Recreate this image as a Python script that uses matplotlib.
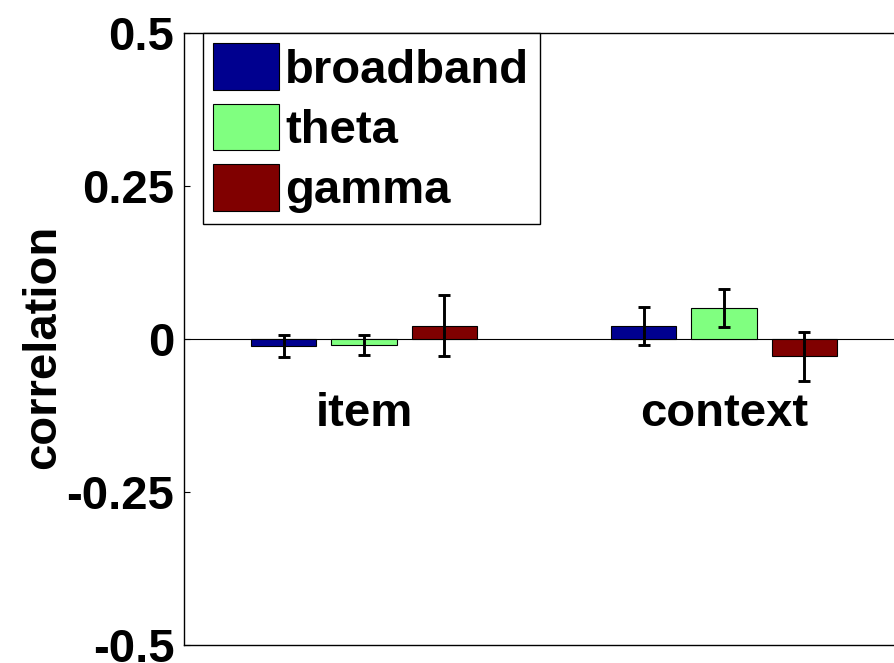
import matplotlib.pyplot as plt
import numpy as np

# data
conditions = ['item', 'context']
bands = ['broadband', 'theta', 'gamma']
broadband_r = [-0.011, 0.022]
broadband_err = [0.018, 0.031]
theta_r = [-0.010, 0.051]
theta_err = [0.016, 0.031]
gamma_r = [0.022, -0.028]
gamma_err = [0.050, 0.040]
yticks = [-0.5, -0.25, 0, 0.25, 0.5]
ytick_labels = ['-0.5', '-0.25', '0', '0.25', '0.5']

colors = [(0, 0, 0.5625), (0.5, 1, 0.5), (0.5, 0, 0)]
means = [broadband_r, theta_r, gamma_r]
errs = [broadband_err, theta_err, gamma_err]

plt.rcParams['font.family'] = 'Liberation Sans'
fs = 34
fw = 'bold'

fig = plt.figure(figsize=(8.94, 6.63), dpi=100)
ax = fig.add_axes([184 / 894, 18 / 663, 720 / 894, 612 / 663])

x = np.arange(1, len(conditions) + 1)
offsets = [-0.2236, 0, 0.2236]
for i in range(len(bands)):
    ax.bar(x + offsets[i], means[i], width=0.183, color=colors[i],
           edgecolor='black', linewidth=0.8, label=bands[i], zorder=2)
    ax.errorbar(x + offsets[i], means[i], yerr=errs[i], fmt='none',
                ecolor='black', elinewidth=2.1, capsize=4.3, capthick=2.1,
                zorder=3)

ax.axhline(0, color='black', linewidth=0.8, zorder=1)

for xi, name in zip(x, conditions):
    ax.text(xi, -0.142, name, ha='center', va='baseline', fontsize=fs,
            fontweight=fw)

ax.set_xlim(0.5, 2.5)
ax.set_ylim(-0.5, 0.5)
ax.set_xticks([])
ax.set_yticks(yticks)
ax.set_yticklabels(ytick_labels, fontsize=fs, fontweight=fw)
ax.tick_params(axis='y', direction='in', length=4, width=0.8, pad=7)
ax.set_ylabel('correlation', fontsize=fs, fontweight=fw)
ax.yaxis.set_label_coords(-0.165, 0.487)
for s in ax.spines.values():
    s.set_linewidth(1.0)

leg = ax.legend(loc='upper left', bbox_to_anchor=(0.026, 1.0),
                borderaxespad=0, prop={'size': fs, 'weight': fw},
                frameon=True, fancybox=False,
                edgecolor='black', framealpha=1, handlelength=1.4,
                handleheight=1.13, handletextpad=0.13, labelspacing=0.24,
                borderpad=0.22)
leg.get_frame().set_linewidth(1.0)

fig.savefig('out.png', dpi=100)
